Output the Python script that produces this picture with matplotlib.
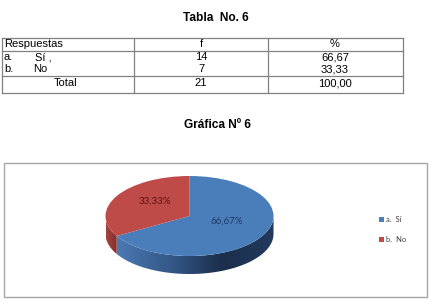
import numpy as np
import matplotlib
matplotlib.use("Agg")
import matplotlib.pyplot as plt
from matplotlib.patches import Polygon, Rectangle
import matplotlib.colors as mcolors

# ---------------- data ----------------
table_title = "Tabla  No. 6"
chart_title = "Gráfica Nº 6"
col_headers = ["Respuestas", "f", "%"]
row_letters = ["a.", "b."]
row_names = ["Sí ,", "No"]
freq = [14, 7]
pct = [66.67, 33.33]
total_label = "Total"
total_freq = 21
total_pct = 100.00
legend_labels = ["a.  Sí", "b.  No"]

W, H = 429, 305
fig = plt.figure(figsize=(W / 100, H / 100), dpi=100)
fig.patch.set_facecolor("white")

ov = fig.add_axes([0, 0, 1, 1])
ov.set_xlim(0, W)
ov.set_ylim(H, 0)
ov.axis("off")

SANS = "Liberation Sans"
fmt = lambda v: f"{v:.2f}".replace(".", ",")

ov.text(216, 18, table_title, ha="center", va="center", fontsize=8.6,
        fontweight="bold", family=SANS)
ov.text(217, 125, chart_title, ha="center", va="center", fontsize=8.6,
        fontweight="bold", family=SANS)

lc = "#808080"
x0, x1, x2, x3 = 2, 134, 268, 403
y0, y1, y2, y3 = 37.5, 50.5, 76, 93
for y in (y0, y1, y2, y3):
    ov.plot([x0, x3], [y, y], color=lc, lw=0.9)
for x in (x0, x1, x2, x3):
    ov.plot([x, x], [y0, y3], color=lc, lw=0.9)

tfs = 8
ov.text(4, 44, col_headers[0], ha="left", va="center", fontsize=tfs, family=SANS)
ov.text(201, 44, col_headers[1], ha="center", va="center", fontsize=tfs, family=SANS)
ov.text(335, 44, col_headers[2], ha="center", va="center", fontsize=tfs, family=SANS)
row_y = [57, 69.5]
name_x = [35, 33]
for i in range(2):
    ov.text(4, row_y[i], row_letters[i], ha="left", va="center", fontsize=tfs, family=SANS)
    ov.text(name_x[i], row_y[i], row_names[i], ha="left", va="center", fontsize=tfs, family=SANS)
    ov.text(201, row_y[i], str(freq[i]), ha="center", va="center", fontsize=tfs, family=SANS)
    ov.text(335, row_y[i], fmt(pct[i]), ha="center", va="center", fontsize=tfs, family=SANS)
ov.text(66, 83, total_label, ha="center", va="center", fontsize=tfs, family=SANS)
ov.text(201, 83, str(total_freq), ha="center", va="center", fontsize=tfs, family=SANS)
ov.text(335, 83, fmt(total_pct), ha="center", va="center", fontsize=tfs, family=SANS)

ov.add_patch(Rectangle((4, 163), 423, 134, fill=False, edgecolor="#a6a6a6", lw=1.0))

# ---------------- pie ----------------
cx, cy, rx, ry = 189.5, 216, 84, 40
px_l, px_r, px_t, px_b = 100, 280, 168, 292
ax = fig.add_axes([px_l / W, 1 - px_b / H, (px_r - px_l) / W, (px_b - px_t) / H])
ax.set_zorder(2)
colors = ["#4a7ebb", "#be4b48"]
side_cmaps = [
    mcolors.LinearSegmentedColormap.from_list("bs", ["#4a79b2", "#35598a", "#1c2f4b", "#223a5c"], N=256),
    mcolors.LinearSegmentedColormap.from_list("rs", ["#a54341", "#7f2e2c"], N=256),
]
depth = 18 / ry
xl = (-(cx - px_l) / rx, (px_r - cx) / rx)
yl = (-(px_b - cy) / ry, (cy - px_t) / ry)

fracs = np.array(pct) / np.sum(pct)
ranges = []
a = 90.0
for f in fracs:
    ranges.append((a - f * 360, a))
    a -= f * 360

grad = np.linspace(0, 1, 256).reshape(1, -1)
for i, (a0, a1) in enumerate(ranges):
    for shift in (0, 360, -360):
        lo = max(a0 + shift, 180)
        hi = min(a1 + shift, 360)
        if hi <= lo:
            continue
        t = np.radians(np.linspace(lo, hi, 120))
        top = np.column_stack([np.cos(t), np.sin(t)])
        bot = np.column_stack([np.cos(t[::-1]), np.sin(t[::-1]) - depth])
        poly = Polygon(np.vstack([top, bot]), closed=True, facecolor="none", edgecolor="none")
        ax.add_patch(poly)
        xmin, xmax = np.cos(t).min(), np.cos(t).max()
        im = ax.imshow(grad, cmap=side_cmaps[i], aspect="auto",
                       extent=(xmin, xmax, -1 - depth, 0.2), origin="lower",
                       interpolation="bilinear", zorder=1)
        im.set_clip_path(poly)

wedges, _ = ax.pie(fracs, colors=colors, startangle=90, counterclock=False,
                   radius=1, center=(0, 0), wedgeprops=dict(lw=0, zorder=3))
ax.set_aspect("auto")
ax.set_xlim(*xl)
ax.set_ylim(*yl)
ax.axis("off")

LFONT = "Lato"
lab_pos = [(227, 221), (155, 201)]
lab_col = ["#1f3a60", "#5a1514"]
for i in range(2):
    ov.text(lab_pos[i][0], lab_pos[i][1], fmt(pct[i]) + "%", ha="center", va="center",
            fontsize=7, family=LFONT, color=lab_col[i], zorder=5)

leg_y = [219, 239]
for i in range(2):
    ov.add_patch(Rectangle((378.5, leg_y[i] - 2.5), 5, 5, facecolor=colors[i], edgecolor="none"))
    ov.text(386, leg_y[i], legend_labels[i], ha="left", va="center", fontsize=5.5,
            family=LFONT, color="#404040")
ov.set_zorder(3)
ov.patch.set_alpha(0)

fig.savefig("out.png", dpi=100, facecolor="white")
